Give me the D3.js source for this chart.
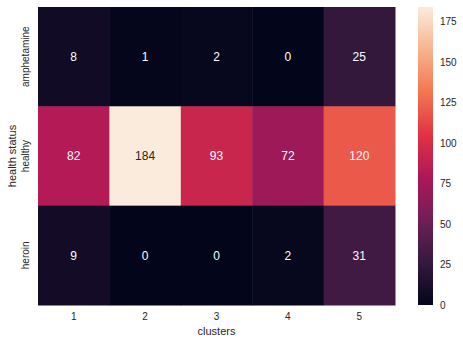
<!DOCTYPE html>
<html>
<head>
<meta charset="utf-8">
<script src="https://cdn.jsdelivr.net/npm/d3@7"></script>
<style>
  body { margin: 0; background: #fff; }
  text { font-family: "Liberation Sans", Arial, sans-serif; }
</style>
</head>
<body>
<div id="chart"></div>
<script>
const clusters = ["1", "2", "3", "4", "5"];
const statuses = ["amphetamine", "healthy", "heroin"];
const counts = [
  [8, 1, 2, 0, 25],
  [82, 184, 93, 72, 120],
  [9, 0, 0, 2, 31]
];
const cbarTicks = [0, 25, 50, 75, 100, 125, 150, 175];

// rocket colormap stops
const rocketStops = ["#03051a", "#35193e", "#701f57", "#ad1759", "#e13342", "#f37651", "#f6b48f", "#faebdd"];

let width = 463, height = 344;
let margin = {top: 7, left: 38};
let plotW = 357, plotH = 298;

const svg = d3.select("#chart")
  .append("svg")
    .attr("width", width)
    .attr("height", height);

const cells = [];
counts.forEach((row, i) => row.forEach((v, j) => cells.push({r: statuses[i], c: clusters[j], v: v})));

const vmax = d3.max(cells, d => d.v);
const rocket = d3.scaleLinear()
  .domain(rocketStops.map((s, i) => i / (rocketStops.length - 1)))
  .range(rocketStops)
  .interpolate(d3.interpolateRgb);
const color = v => rocket(v / vmax);

// relative luminance, like seaborn picks annotation colour
function lum(col) {
  const c = d3.rgb(col);
  const lin = u => { u = u / 255; return u <= 0.03928 ? u / 12.92 : Math.pow((u + 0.055) / 1.055, 2.4); };
  return 0.2126 * lin(c.r) + 0.7152 * lin(c.g) + 0.0722 * lin(c.b);
}

let x = d3.scaleBand().domain(clusters).range([margin.left, margin.left + plotW]);
let y = d3.scaleBand().domain(statuses).range([margin.top, margin.top + plotH]);

svg.append("g")
  .selectAll("rect")
  .data(cells)
  .enter()
  .append("rect")
    .attr("x", d => x(d.c))
    .attr("y", d => y(d.r))
    .attr("width", x.bandwidth() + 0.5)
    .attr("height", y.bandwidth() + 0.5)
    .attr("fill", d => color(d.v));

svg.append("g")
  .selectAll("text")
  .data(cells)
  .enter()
  .append("text")
    .attr("x", d => x(d.c) + x.bandwidth() / 2)
    .attr("y", d => y(d.r) + y.bandwidth() / 2)
    .attr("text-anchor", "middle")
    .attr("dy", "0.35em")
    .style("font-size", "12px")
    .attr("fill", d => lum(color(d.v)) > 0.408 ? "#262626" : "#ffffff")
    .text(d => d.v);

// axes
const xAxis = svg.append("g")
  .attr("transform", "translate(0," + (margin.top + plotH) + ")")
  .call(d3.axisBottom(x).tickSize(0).tickPadding(8));
xAxis.select(".domain").remove();
xAxis.selectAll("text").style("font-size", "10px").attr("fill", "#262626");

const yAxis = svg.append("g")
  .attr("transform", "translate(" + margin.left + ",0)")
  .call(d3.axisLeft(y).tickSize(0));
yAxis.select(".domain").remove();
yAxis.selectAll("text")
  .style("font-size", "10px")
  .attr("fill", "#262626")
  .attr("text-anchor", "middle")
  .attr("dy", 0)
  .attr("transform", "translate(-9,0) rotate(-90)")
  .attr("x", 0);

svg.append("text")
  .attr("x", margin.left + plotW / 2)
  .attr("y", 335)
  .attr("text-anchor", "middle")
  .style("font-size", "11px")
  .attr("fill", "#262626")
  .text("clusters");

svg.append("text")
  .attr("transform", "translate(16," + (margin.top + plotH / 2) + ") rotate(-90)")
  .attr("text-anchor", "middle")
  .style("font-size", "11px")
  .attr("fill", "#262626")
  .text("health status");

// colorbar
const cbX = 418, cbW = 15;
const cbY = d3.scaleLinear().domain([0, vmax]).range([margin.top + plotH, margin.top]);
const defs = svg.append("defs");
const grad = defs.append("linearGradient")
  .attr("id", "rocket")
  .attr("x1", 0).attr("y1", 1).attr("x2", 0).attr("y2", 0);
grad.selectAll("stop")
  .data(rocketStops)
  .enter()
  .append("stop")
    .attr("offset", (d, i) => i / (rocketStops.length - 1))
    .attr("stop-color", d => d);

svg.append("rect")
  .attr("x", cbX)
  .attr("y", margin.top)
  .attr("width", cbW)
  .attr("height", plotH)
  .attr("fill", "url(#rocket)");

const cAxis = svg.append("g")
  .attr("transform", "translate(" + (cbX + cbW) + ",0)")
  .call(d3.axisRight(cbY).tickValues(cbarTicks).tickSize(0).tickPadding(7));
cAxis.select(".domain").remove();
cAxis.selectAll("text").style("font-size", "10px").attr("fill", "#262626");
</script>
</body>
</html>
